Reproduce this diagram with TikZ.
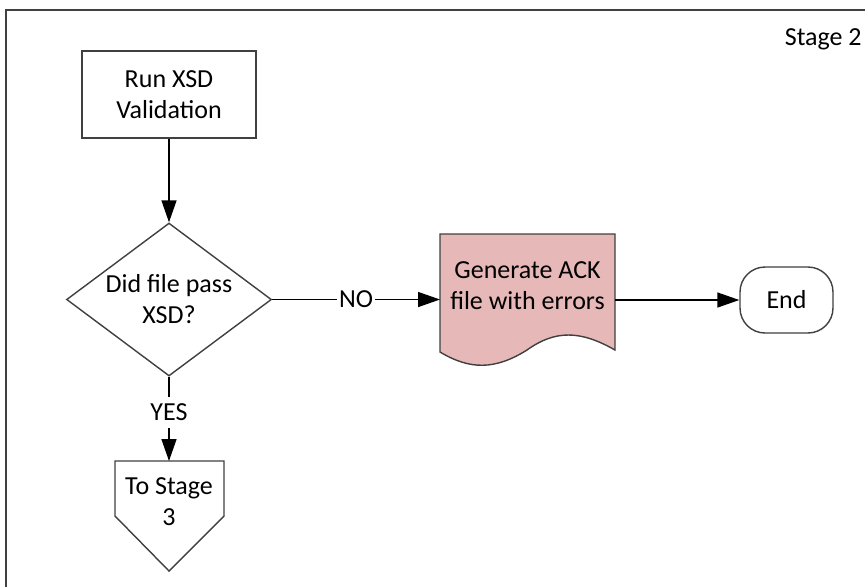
\documentclass[tikz,border=0pt]{standalone}
\usepackage{fontspec}
\setmainfont{Carlito}
\usetikzlibrary{shapes.geometric, arrows.meta}
\definecolor{rosa}{RGB}{230,185,184}
\definecolor{linea}{RGB}{64,64,64}
\tikzset{
  caja/.style={draw=linea, line width=0.8pt, fill=white, align=center},
  flecha/.style={draw=black, line width=0.8pt, -{Triangle[length=0.44cm,width=0.3cm]}},
  etiqueta/.style={fill=white, inner sep=1pt},
}
\begin{document}
\begin{tikzpicture}[x=0.02cm, y=-0.02cm, font=\fontsize{14.8}{17.6}\selectfont] % coordenadas en pixeles
\useasboundingbox (0,0) rectangle (865,586);
\draw[linea, line width=1.2pt] (6,592) -- (6,10) -- (872,10); % marco

\coordinate (D1) at (440,234);
\coordinate (D2) at (615,234);
\coordinate (D3) at (615,350);
\coordinate (D4) at (440,352);
\coordinate (S1) at (115,461);
\coordinate (S2) at (224,461);
\coordinate (S3) at (224,516);
\coordinate (S4) at (169,571);
\coordinate (S5) at (115,516);
\coordinate (ackin) at (440,299.5);
\coordinate (ackout) at (615,300);
\coordinate (stagein) at (169,461);

\filldraw[fill=rosa, draw=linea, line width=0.8pt] (D4) -- (D1) -- (D2) -- (D3)
  .. controls (580,330) and (555,330) .. (527,350)
  .. controls (495,370) and (470,370) .. (D4) -- cycle; % documento
\filldraw[fill=white, draw=linea, line width=0.8pt] (S1) -- (S2) -- (S3) -- (S4) -- (S5) -- cycle; % conector

\node[anchor=base east, inner sep=0pt] (etapa) at (862,45) {Stage 2};
\node[caja, minimum width=3.48cm, minimum height=1.74cm] (run) at (169,94.5) {Run XSD\\Validation};
\node[caja, diamond, aspect=1.34, inner sep=0pt, minimum width=4.1cm, minimum height=3.06cm] (check) at (169,299.5) {Did file pass\\XSD?};
\node[align=center] (ack) at (527.5,286) {Generate ACK\\file with errors};
\node[caja, rounded corners=0.5cm, minimum width=1.86cm, minimum height=1.32cm] (end) at (786.5,300) {End};
\node[align=center] (stage) at (169,502) {To Stage\\3};

\draw[flecha] (run) -- (check);
\draw[flecha] (check) -- node[etiqueta]{NO} (ackin);
\draw[flecha] (ackout) -- (end);
\draw[flecha] (check) -- node[etiqueta, pos=0.42, inner ysep=4pt]{YES} (stagein);
\end{tikzpicture}
\end{document}
